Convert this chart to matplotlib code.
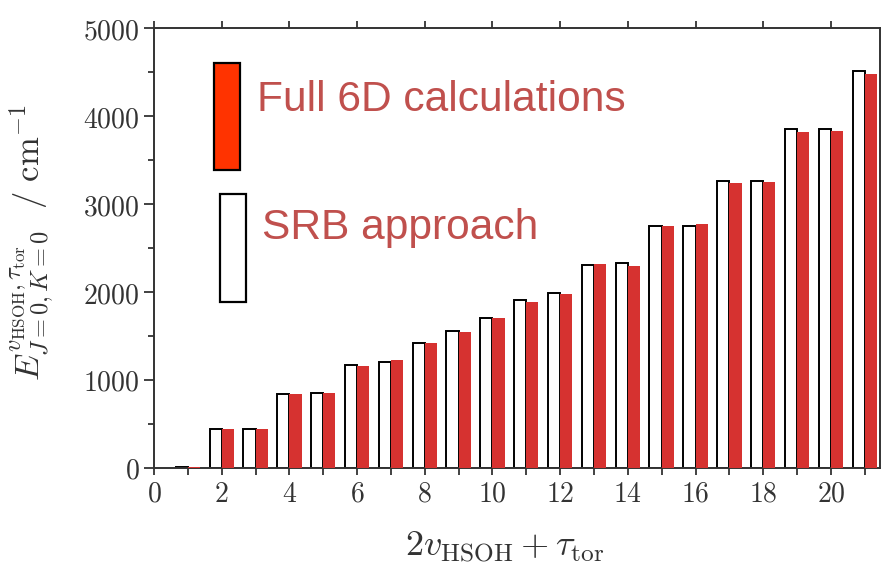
import numpy as np
import matplotlib
matplotlib.use("Agg")
import matplotlib.pyplot as plt
from matplotlib.patches import Rectangle
from matplotlib.ticker import FuncFormatter, MultipleLocator

plt.rcParams["mathtext.fontset"] = "cm"

# --- data ---
levels = list(range(1, 22))
srb = [8, 440, 440, 840, 845, 1172, 1202, 1422, 1552, 1707, 1911, 1984,
       2305, 2325, 2753, 2753, 3269, 3269, 3861, 3861, 4510]
full6d = [12, 440, 440, 840, 845, 1160, 1225, 1415, 1540, 1700, 1889, 1976,
          2317, 2298, 2753, 2772, 3239, 3247, 3827, 3834, 4479]

x = np.array(levels)
width = 0.36

fig = plt.figure(figsize=(8.82, 5.69), dpi=100)
ax = fig.add_axes([0.1746, 0.178, 0.8231, 0.772])

ax.bar(x - width / 2, srb, width=width, color="white", edgecolor="black",
       linewidth=1.4, zorder=2)
ax.bar(x + width / 2, full6d, width=width, color="#D63230", edgecolor="none",
       zorder=3)

ax.set_xlim(0, 21.45)
ax.set_ylim(0, 5000)

ax.xaxis.set_major_locator(MultipleLocator(2))
ax.xaxis.set_minor_locator(MultipleLocator(1))
ax.yaxis.set_major_locator(MultipleLocator(1000))
ax.yaxis.set_minor_locator(MultipleLocator(500))
fmt = FuncFormatter(lambda v, p: f"${v:.0f}$")
ax.xaxis.set_major_formatter(fmt)
ax.yaxis.set_major_formatter(fmt)

ax.tick_params(axis="x", which="both", direction="out", length=5, width=1.3,
               colors="#333333", labelsize=20, top=True, labelcolor="#333333")
ax.tick_params(axis="x", which="minor", top=False)
ax.tick_params(axis="y", which="major", direction="out", length=7, width=1.3,
               colors="#333333", labelsize=20, labelcolor="#333333")
ax.tick_params(axis="y", which="minor", direction="out", length=4, width=1.3,
               colors="#333333")
for s in ax.spines.values():
    s.set_color("#333333")
    s.set_linewidth(1.4)

ax.set_xlabel(r"$2v_{\mathrm{HSOH}}+\tau_{\mathrm{tor}}$", fontsize=26,
              color="#333333")
ax.xaxis.set_label_coords((505 - 154) / 726, -(530 - 467.7) / 439.4)
ax.set_ylabel(r"$E^{v_{\mathrm{HSOH}},\tau_{\mathrm{tor}}}_{J=0,K=0}\ \ /\ \mathrm{cm}^{-1}$",
              fontsize=25, color="#333333")
ax.yaxis.set_label_coords(-(154 - 56) / 726, (467.7 - 242) / 439.4)

# legend boxes drawn by hand like the original slide
ax.add_patch(Rectangle((0.0826, 0.6775), 0.0365, 0.2447, transform=ax.transAxes,
                       facecolor="#FF3300", edgecolor="black", linewidth=1.6,
                       zorder=5, clip_on=False))
ax.add_patch(Rectangle((0.0909, 0.377), 0.0358, 0.2458, transform=ax.transAxes,
                       facecolor="white", edgecolor="black", linewidth=1.6,
                       zorder=5, clip_on=False))
fig.text(257 / 882, 1 - 110.7 / 569, "Full 6D calculations", fontsize=30.6,
         family="Liberation Sans", color="#C0504D", va="baseline")
fig.text(262 / 882, 1 - 239 / 569, "SRB approach", fontsize=30.6,
         family="Liberation Sans", color="#C0504D", va="baseline")

fig.savefig("out.png", dpi=100)
